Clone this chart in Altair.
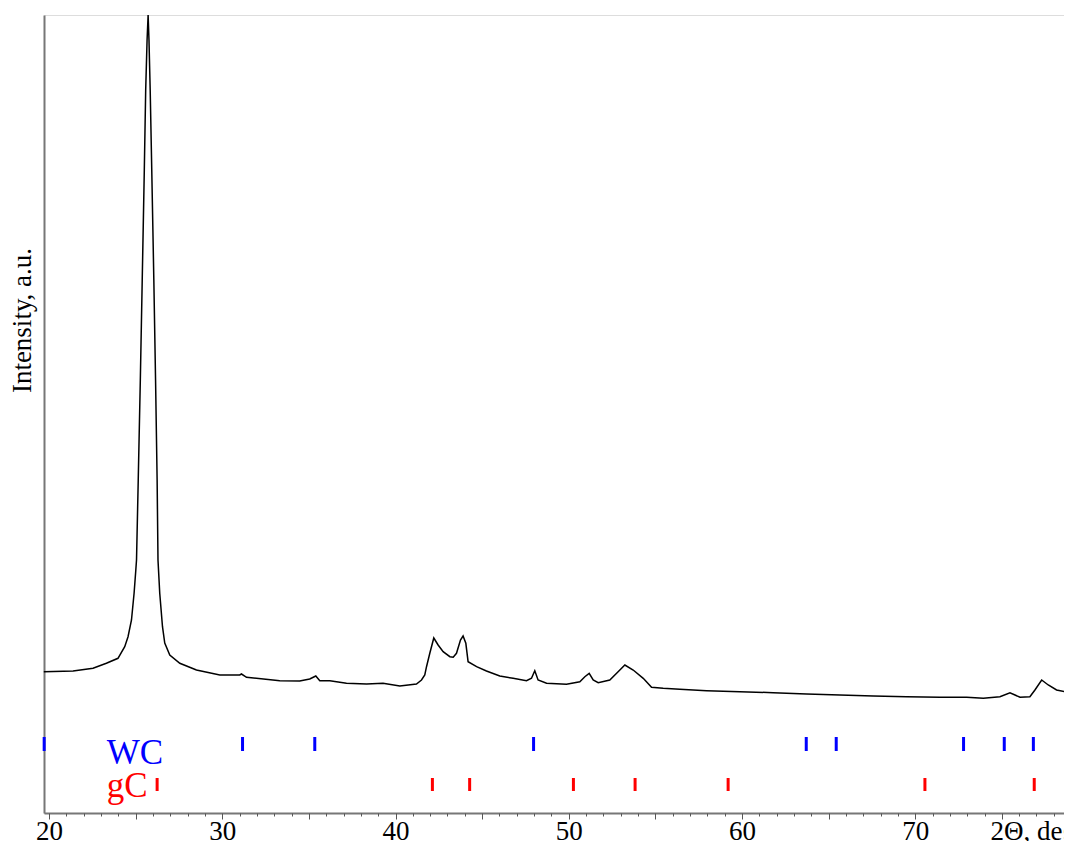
import altair as alt
import pandas as pd

# XRD pattern (2-theta in degrees, intensity in arbitrary units)
two_theta = [19.70, 21.39, 22.54, 23.31, 23.98, 24.37, 24.56, 24.76, 24.91, 25.01,
             25.05, 25.15, 25.27, 25.38, 25.50, 25.58, 25.66, 25.72, 25.77, 25.84,
             25.93, 26.05, 26.15, 26.24, 26.29, 26.39, 26.55, 26.68, 26.97, 27.55,
             28.51, 29.86, 31.01, 31.11, 31.40, 32.92, 33.32, 34.47, 35.05, 35.40,
             35.63, 36.21, 37.17, 38.33, 39.28, 40.25, 41.21, 41.50, 41.69, 41.79,
             41.98, 42.21, 42.46, 42.75, 43.14, 43.33, 43.52, 43.75, 43.90, 44.06,
             44.19, 44.68, 45.25, 46.02, 46.79, 47.56, 47.85, 48.04, 48.23, 48.72,
             49.87, 50.64, 50.93, 51.18, 51.41, 51.70, 52.37, 52.85, 53.24, 53.72,
             54.30, 54.78, 55.45, 56.41, 57.96, 59.88, 61.80, 63.73, 65.65, 67.58,
             69.50, 71.43, 72.97, 73.93, 74.89, 75.47, 75.76, 76.05, 76.62, 76.91,
             77.30, 77.68, 78.16, 79.05]
intensity = [141.3, 142.0, 144.7, 149.7, 154.7, 166.3, 176.3, 193.0, 219.7, 243.0,
             253.0, 333.0, 433.0, 533.0, 643.0, 723.0, 773.0, 798.0, 773.0, 723.0,
             643.0, 533.0, 433.0, 333.0, 253.0, 220.0, 186.3, 170.0, 158.0, 149.7,
             143.0, 138.0, 138.0, 139.0, 135.7, 133.0, 132.3, 132.0, 134.0, 137.0,
             132.3, 132.3, 129.7, 129.0, 129.7, 127.0, 129.0, 133.0, 138.0, 146.3,
             159.7, 175.0, 168.0, 161.3, 156.3, 155.7, 159.7, 173.0, 177.0, 169.7,
             151.3, 146.3, 142.0, 137.0, 134.7, 132.3, 134.7, 142.3, 133.0, 129.7,
             128.7, 131.3, 136.3, 139.7, 133.0, 130.3, 133.0, 141.3, 148.0, 143.0,
             134.7, 125.7, 124.7, 123.7, 122.3, 121.3, 120.3, 119.0, 118.0, 117.0,
             116.3, 115.7, 115.7, 114.7, 116.3, 120.3, 118.0, 115.7, 116.3, 123.0,
             133.0, 128.0, 123.0, 119.7]

# Reference line positions of the phases
wc_positions = [19.72, 31.17, 35.34, 47.97, 63.71, 65.44, 72.79, 75.14, 76.82]
gc_positions = [26.24, 42.13, 44.28, 50.27, 53.83, 59.20, 70.56, 76.87]
phase_names = ["WC", "gC"]
phase_colors = ["#0000ff", "#ff0000"]
phase_lo = [62, 22]
phase_hi = [76, 35]
label_x = [23.33, 23.33]
label_y = [49, 16]

major_ticks = [20, 25, 30, 35, 40, 45, 50, 55, 60, 65, 70, 75]
minor_ticks = list(range(20, 80))

X_DOMAIN = [19.71, 79.05]
Y_DOMAIN = [0, 798]
FONT = "Liberation Serif"

pattern = pd.DataFrame({"two_theta": two_theta, "intensity": intensity})

rows = []
for pos in wc_positions:
    rows.append({"pos": pos, "lo": phase_lo[0], "hi": phase_hi[0], "phase": "WC"})
for pos in gc_positions:
    rows.append({"pos": pos, "lo": phase_lo[1], "hi": phase_hi[1], "phase": "gC"})
markers = pd.DataFrame(rows)
labels = pd.DataFrame({"x": label_x, "y": label_y, "phase": phase_names})

xscale = alt.Scale(domain=X_DOMAIN, nice=False, zero=False)
yscale = alt.Scale(domain=Y_DOMAIN, nice=False, zero=False)
color_scale = alt.Scale(domain=phase_names, range=phase_colors)

x_main_axis = alt.Axis(
    orient="bottom", values=major_ticks, tickSize=6, tickWidth=1, tickColor="#555555",
    labelExpr="datum.value % 10 == 0 ? datum.label : ''",
    labelFont=FONT, labelFontSize=27, labelColor="black",
    labelBaseline="alphabetic", labelPadding=20, labelFlush=False,
    domainColor="#777777", domainWidth=2, grid=False,
    title="2Θ, deg", titleFont=FONT, titleFontSize=27, titleFontWeight="normal",
    titleColor="black", titleX=946, titleY=26, titleAlign="left",
    titleBaseline="alphabetic", titleAnchor="start",
)
x_minor_axis = alt.Axis(
    orient="bottom", values=minor_ticks, tickSize=3, tickWidth=1, tickColor="#555555",
    labels=False, domain=False, grid=False, title=None,
)
y_axis = alt.Axis(
    ticks=False, labels=False, grid=False, domainColor="#777777", domainWidth=2,
    title="Intensity, a.u.", titleFont=FONT, titleFontSize=27, titleFontWeight="normal",
    titleColor="black", titleX=-22, titleY=305, titleAngle=270,
    titleAlign="center", titleBaseline="middle",
)

line = alt.Chart(pattern).mark_line(color="black", strokeWidth=1.5).encode(
    x=alt.X("two_theta:Q", scale=xscale, axis=x_main_axis),
    y=alt.Y("intensity:Q", scale=yscale, axis=y_axis),
    order="two_theta:Q",
)

ticks = alt.Chart(markers).mark_rule(strokeWidth=3).encode(
    x=alt.X("pos:Q", scale=xscale, axis=x_minor_axis),
    y=alt.Y("lo:Q", scale=yscale, axis=y_axis),
    y2="hi:Q",
    color=alt.Color("phase:N", scale=color_scale, legend=None),
)

text = alt.Chart(labels).mark_text(
    font=FONT, fontSize=35, align="left", baseline="alphabetic"
).encode(
    x=alt.X("x:Q", scale=xscale, axis=None),
    y=alt.Y("y:Q", scale=yscale, axis=y_axis),
    text="phase:N",
    color=alt.Color("phase:N", scale=color_scale, legend=None),
)

chart = alt.layer(line, ticks, text).resolve_axis(x="independent").properties(
    width=1028,
    height=798,
    autosize=alt.AutoSizeParams(type="none"),
    padding={"left": 36, "top": 7, "right": -8, "bottom": 28},
).configure_view(stroke="black", strokeWidth=1).configure(background="white")

chart.save("out.html", embed_options={"renderer": "svg", "actions": False})
